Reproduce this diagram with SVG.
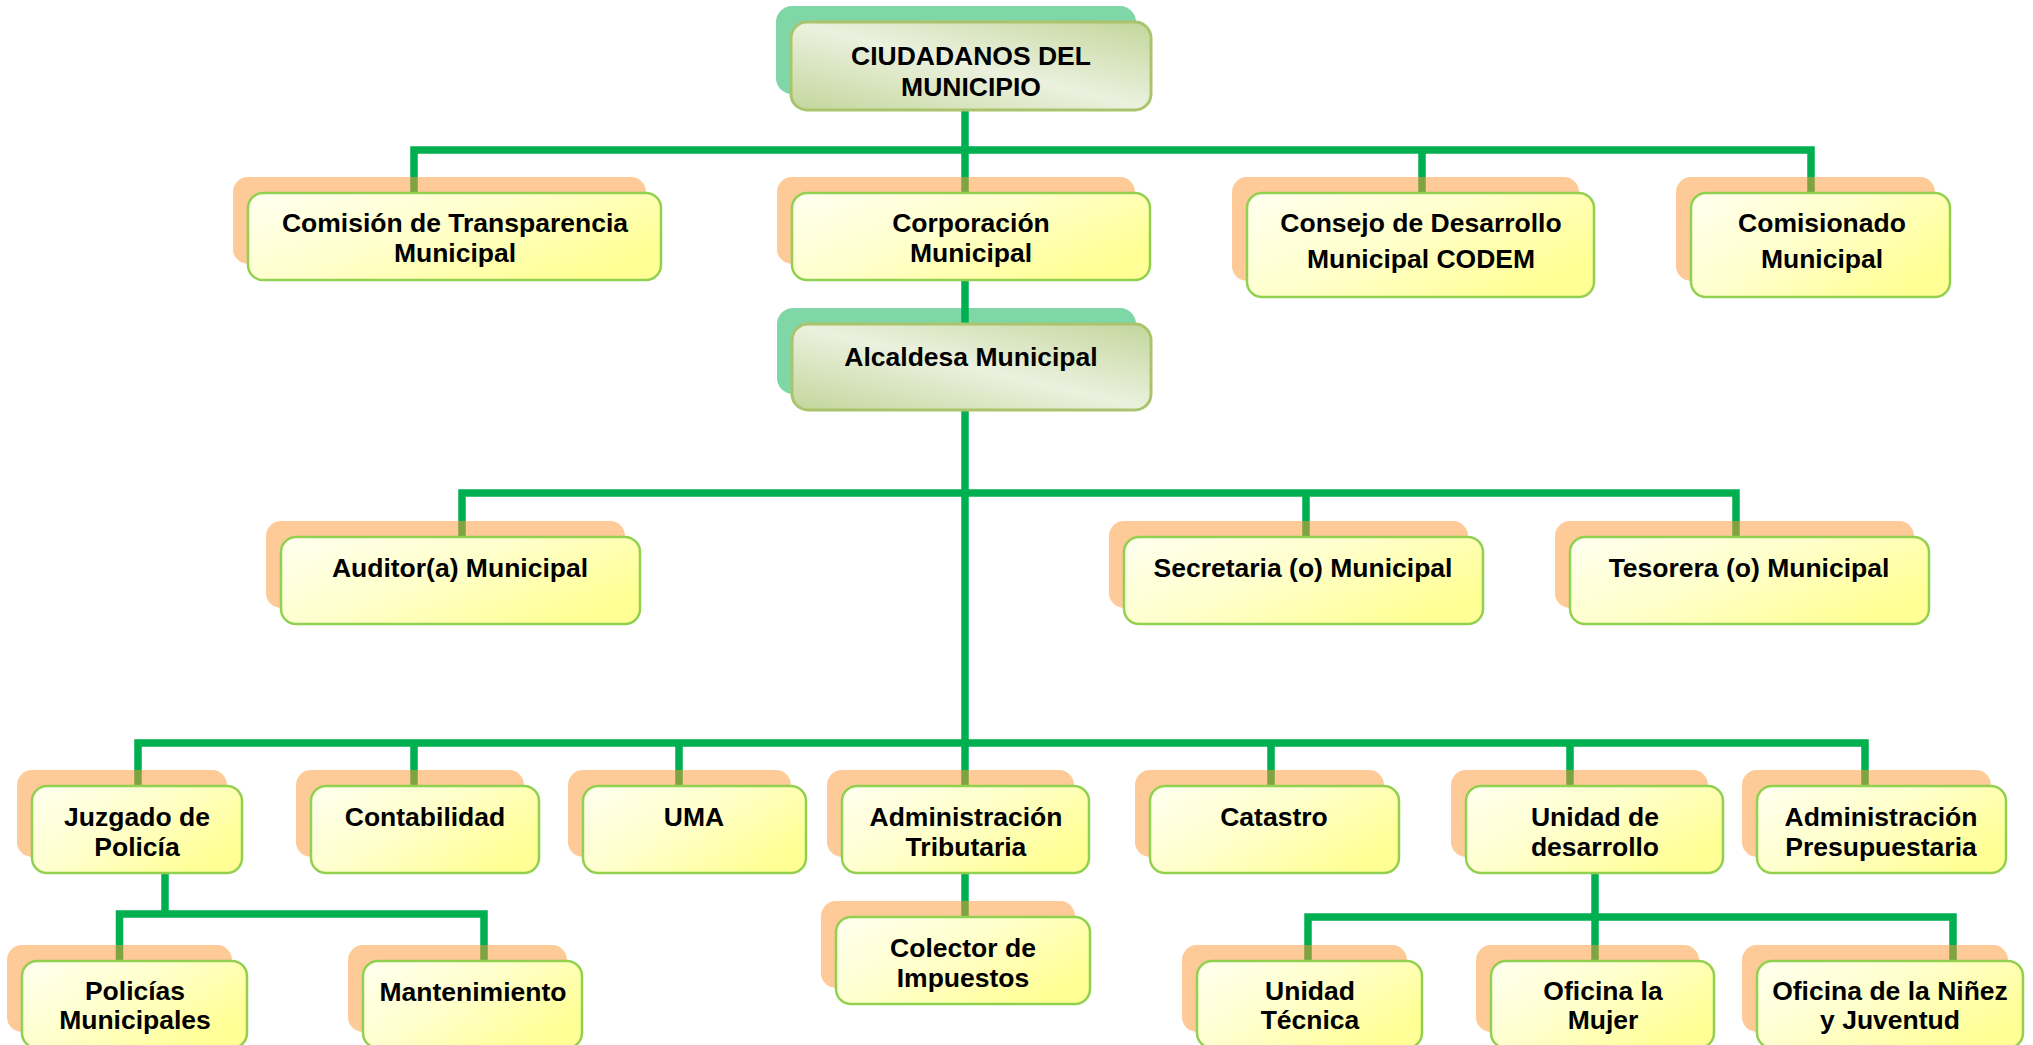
<svg xmlns="http://www.w3.org/2000/svg" width="2033" height="1045" viewBox="0 0 2033 1045">
<defs>
<linearGradient id="gy" x1="0" y1="0" x2="1" y2="0.6">
<stop offset="0" stop-color="#FFFFF0"/>
<stop offset="0.5" stop-color="#FFFFCC"/>
<stop offset="1" stop-color="#FFFF96"/>
</linearGradient>
<linearGradient id="gg" x1="0" y1="1" x2="1" y2="0">
<stop offset="0" stop-color="#C3D69B"/>
<stop offset="0.5" stop-color="#EBF1DE"/>
<stop offset="1" stop-color="#C3D69B"/>
</linearGradient>
<style>
.c{fill:none;stroke:#00B050;stroke-width:7.5;stroke-linejoin:miter}
.so{fill:#FE9531;opacity:0.5}
.sg{fill:#00B050;opacity:0.5}
.by{fill:url(#gy);stroke:#92D050;stroke-width:2.5}
.bg{fill:url(#gg);stroke:#A9C46C;stroke-width:3}
text{font-family:"Liberation Sans",Arial,sans-serif;font-weight:bold;font-size:26.5px;fill:#000;text-anchor:middle}
</style>
</defs>
<rect width="2033" height="1045" fill="#FFFFFF"/>
<g id="connectors">
<path class="c" d="M965,110 V917"/>
<path class="c" d="M414,193 V150 H1811 V193"/>
<path class="c" d="M1422,150 V193"/>
<path class="c" d="M462,537 V493 H1736 V537"/>
<path class="c" d="M1306,493 V537"/>
<path class="c" d="M138,786 V743 H1865 V786"/>
<path class="c" d="M414,743 V786 M679,743 V786 M1271,743 V786 M1570,743 V786"/>
<path class="c" d="M165,873 V914"/>
<path class="c" d="M119.5,961 V914 H484 V961"/>
<path class="c" d="M1595,873 V961"/>
<path class="c" d="M1308,961 V917 H1953 V961"/>
</g>
<g id="n-ciudadanos">
<rect class="sg" x="776" y="6" width="360" height="88" rx="16"/>
<rect class="bg" x="791" y="22" width="360" height="88" rx="16"/>
<text x="971" y="65">CIUDADANOS DEL</text>
<text x="971" y="96">MUNICIPIO</text>
</g>
<g id="n-comision">
<rect class="so" x="233" y="177" width="413" height="87" rx="15"/>
<rect class="by" x="248" y="193" width="413" height="87" rx="15"/>
<text x="455" y="232">Comisión de Transparencia</text>
<text x="455" y="262">Municipal</text>
</g>
<g id="n-corporacion">
<rect class="so" x="777" y="177" width="358" height="87" rx="15"/>
<rect class="by" x="792" y="193" width="358" height="87" rx="15"/>
<text x="971" y="232">Corporación</text>
<text x="971" y="262">Municipal</text>
</g>
<g id="n-consejo">
<rect class="so" x="1232" y="177" width="347" height="104" rx="15"/>
<rect class="by" x="1247" y="193" width="347" height="104" rx="15"/>
<text x="1421" y="232">Consejo de Desarrollo</text>
<text x="1421" y="268">Municipal CODEM</text>
</g>
<g id="n-comisionado">
<rect class="so" x="1676" y="177" width="259" height="104" rx="15"/>
<rect class="by" x="1691" y="193" width="259" height="104" rx="15"/>
<text x="1822" y="232">Comisionado</text>
<text x="1822" y="268">Municipal</text>
</g>
<g id="n-alcaldesa">
<rect class="sg" x="777" y="308" width="359" height="86" rx="16"/>
<rect class="bg" x="792" y="324" width="359" height="86" rx="16"/>
<text x="971" y="366">Alcaldesa Municipal</text>
</g>
<g id="n-auditor">
<rect class="so" x="266" y="521" width="359" height="87" rx="15"/>
<rect class="by" x="281" y="537" width="359" height="87" rx="15"/>
<text x="460" y="577">Auditor(a) Municipal</text>
</g>
<g id="n-secretaria">
<rect class="so" x="1109" y="521" width="359" height="87" rx="15"/>
<rect class="by" x="1124" y="537" width="359" height="87" rx="15"/>
<text x="1303" y="577">Secretaria (o) Municipal</text>
</g>
<g id="n-tesorera">
<rect class="so" x="1555" y="521" width="359" height="87" rx="15"/>
<rect class="by" x="1570" y="537" width="359" height="87" rx="15"/>
<text x="1749" y="577">Tesorera (o) Municipal</text>
</g>
<g id="n-juzgado">
<rect class="so" x="17" y="770" width="210" height="87" rx="15"/>
<rect class="by" x="32" y="786" width="210" height="87" rx="15"/>
<text x="137" y="826">Juzgado de</text>
<text x="137" y="856">Policía</text>
</g>
<g id="n-contabilidad">
<rect class="so" x="296" y="770" width="228" height="87" rx="15"/>
<rect class="by" x="311" y="786" width="228" height="87" rx="15"/>
<text x="425" y="826">Contabilidad</text>
</g>
<g id="n-uma">
<rect class="so" x="568" y="770" width="223" height="87" rx="15"/>
<rect class="by" x="583" y="786" width="223" height="87" rx="15"/>
<text x="694" y="826">UMA</text>
</g>
<g id="n-admtributaria">
<rect class="so" x="827" y="770" width="247" height="87" rx="15"/>
<rect class="by" x="842" y="786" width="247" height="87" rx="15"/>
<text x="966" y="826">Administración</text>
<text x="966" y="856">Tributaria</text>
</g>
<g id="n-catastro">
<rect class="so" x="1135" y="770" width="249" height="87" rx="15"/>
<rect class="by" x="1150" y="786" width="249" height="87" rx="15"/>
<text x="1274" y="826">Catastro</text>
</g>
<g id="n-unidaddes">
<rect class="so" x="1451" y="770" width="257" height="87" rx="15"/>
<rect class="by" x="1466" y="786" width="257" height="87" rx="15"/>
<text x="1595" y="826">Unidad de</text>
<text x="1595" y="856">desarrollo</text>
</g>
<g id="n-admpresup">
<rect class="so" x="1742" y="770" width="249" height="87" rx="15"/>
<rect class="by" x="1757" y="786" width="249" height="87" rx="15"/>
<text x="1881" y="826">Administración</text>
<text x="1881" y="856">Presupuestaria</text>
</g>
<g id="n-colector">
<rect class="so" x="821" y="901" width="254" height="87" rx="15"/>
<rect class="by" x="836" y="917" width="254" height="87" rx="15"/>
<text x="963" y="957">Colector de</text>
<text x="963" y="987">Impuestos</text>
</g>
<g id="n-policias">
<rect class="so" x="7" y="945" width="225" height="87" rx="15"/>
<rect class="by" x="22" y="961" width="225" height="87" rx="15"/>
<text x="135" y="1000">Policías</text>
<text x="135" y="1029">Municipales</text>
</g>
<g id="n-mantenimiento">
<rect class="so" x="348" y="945" width="219" height="87" rx="15"/>
<rect class="by" x="363" y="961" width="219" height="87" rx="15"/>
<text x="473" y="1001">Mantenimiento</text>
</g>
<g id="n-unidadtec">
<rect class="so" x="1182" y="945" width="225" height="87" rx="15"/>
<rect class="by" x="1197" y="961" width="225" height="87" rx="15"/>
<text x="1310" y="1000">Unidad</text>
<text x="1310" y="1029">Técnica</text>
</g>
<g id="n-mujer">
<rect class="so" x="1476" y="945" width="223" height="87" rx="15"/>
<rect class="by" x="1491" y="961" width="223" height="87" rx="15"/>
<text x="1603" y="1000">Oficina la</text>
<text x="1603" y="1029">Mujer</text>
</g>
<g id="n-ninez">
<rect class="so" x="1742" y="945" width="266" height="87" rx="15"/>
<rect class="by" x="1757" y="961" width="266" height="87" rx="15"/>
<text x="1890" y="1000">Oficina de la Niñez</text>
<text x="1890" y="1029">y Juventud</text>
</g>
</svg>
